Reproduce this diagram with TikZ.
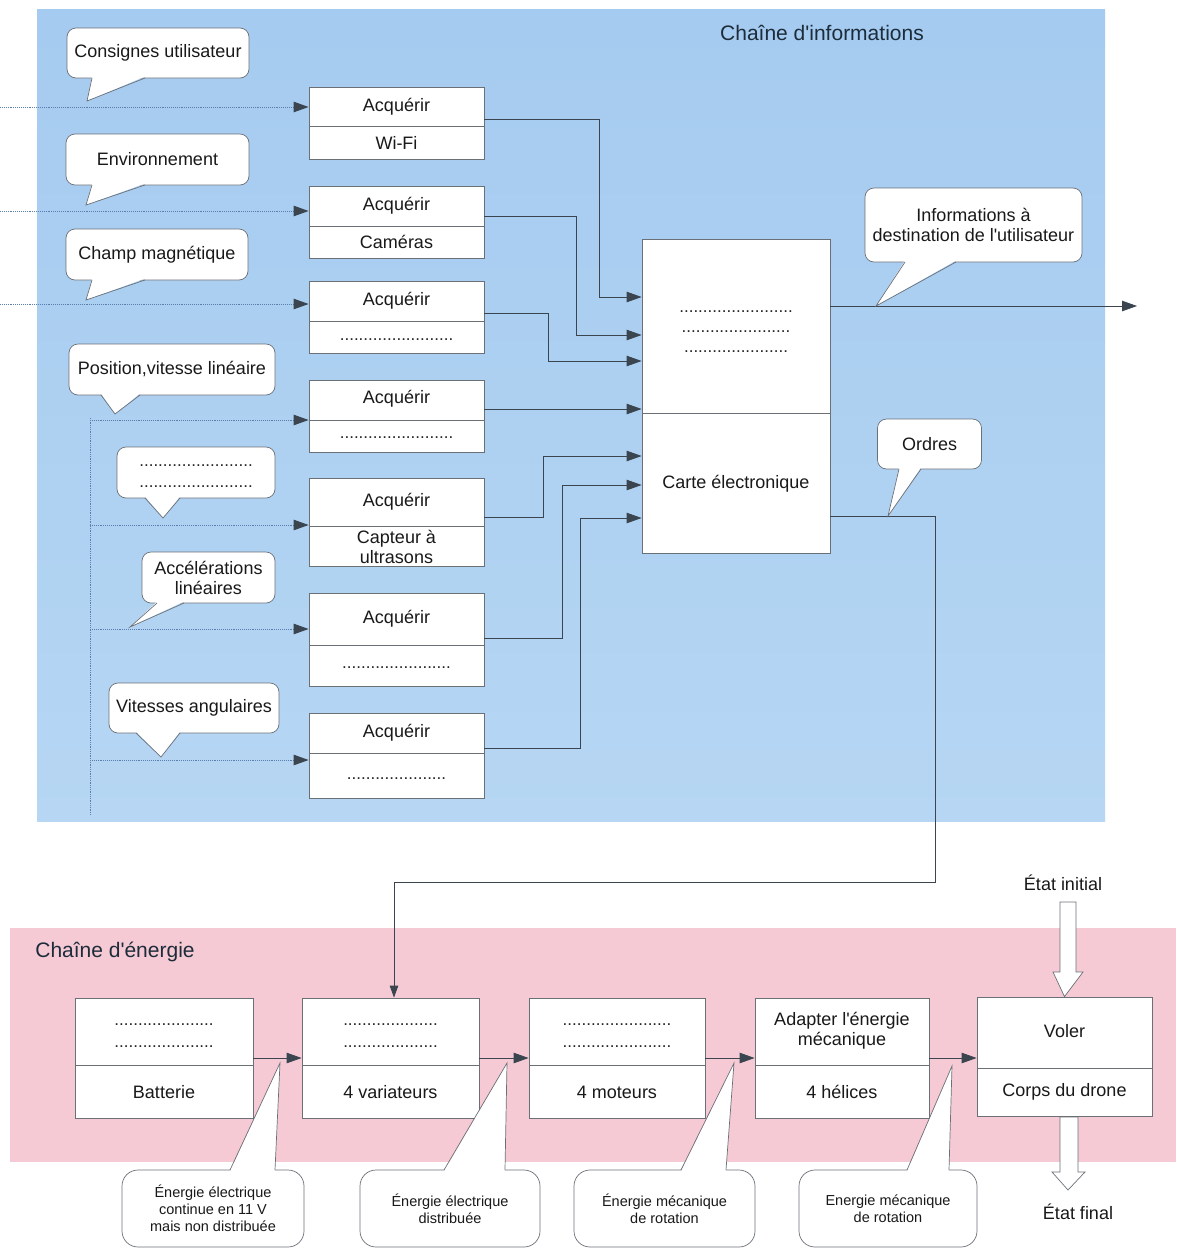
\documentclass[tikz,border=0pt]{standalone}
\usepackage{fontspec}
\setmainfont{Liberation Sans}
\usetikzlibrary{arrows.meta}
\definecolor{infoblue}{HTML}{A5CBF0}
\definecolor{infoblueb}{HTML}{B6D6F3}
\definecolor{energypink}{HTML}{F5CAD4}
\definecolor{linegray}{HTML}{3A4550}
\definecolor{boxgray}{HTML}{6B7077}
\definecolor{dotblue}{HTML}{5A7EAE}
\definecolor{titlecol}{HTML}{1D2C3A}
\newcommand\apos{\textquotesingle}
\newcommand\bptr[6]{%
  \fill[white] (#1,#4) -- (#5,#6) -- (#2,#4) -- cycle;
  \draw[bline] (#1,#3) -- (#5,#6) -- (#2,#3);}
\tikzset{
  tip/.style={-{Triangle[length=15pt,width=10.5pt,color=linegray]}},
  conn/.style={draw=linegray, line width=0.8pt, tip},
  inconn/.style={draw=dotblue, line width=0.9pt, densely dotted, tip},
  dotline/.style={draw=dotblue, line width=0.8pt, densely dotted},
  box/.style={draw=boxgray, fill=white, line width=0.8pt, inner sep=0pt},
  divl/.style={draw=boxgray, line width=0.7pt},
  txt/.style={font=\fontsize{18}{20}\selectfont, text=black!90, align=center, inner sep=0pt},
  dots/.style={font=\fontsize{17}{21}\selectfont, text=black!85, align=center, inner sep=0pt},
  bline/.style={draw=boxgray, line width=0.7pt},
  bubble/.style={draw=boxgray, fill=white, line width=0.7pt, rounded corners=9pt, align=center, inner sep=0pt, font=\fontsize{18}{20}\selectfont, text=black!90},
  bbubble/.style={bubble, rounded corners=16pt, font=\fontsize{14.5}{17}\selectfont},
  title/.style={font=\fontsize{21}{24}\selectfont, text=titlecol, inner sep=0pt},
  hollow/.style={draw=boxgray, fill=white, line width=0.7pt},
}
\begin{document}
\begin{tikzpicture}[x=1pt,y=-1pt]
\useasboundingbox (0,0) rectangle (1176,1248);
\fill[white] (0,0) rectangle (1176,1248);
% backgrounds
\shade[top color=infoblue, bottom color=infoblueb] (37,9) rectangle (1105,821);
\fill[energypink] (10,928) rectangle (1176,1162);
\node[title] (T1) at (822,33) {Chaîne d\apos informations};
\node[title] (T2) at (115,952) {Chaîne d\apos énergie};

% input dotted lines
\coordinate (vtop) at (90,418);
\coordinate (vbot) at (90,815);
\draw[dotline] (vtop) -- (vbot);

% Acquerir boxes
\node[box, minimum width=175pt, minimum height=72pt] (A1) at (396.5,123) {};
\draw[divl] (309,126) -- (484,126);
\node[txt] (A1a) at (396.5,106.5) {Acquérir};
\node[txt] (A1b) at (396.5,142.5) {Wi-Fi};

\node[box, minimum width=175pt, minimum height=72pt] (A2) at (396.5,222) {};
\draw[divl] (309,226) -- (484,226);
\node[txt] (A2a) at (396.5,206) {Acquérir};
\node[txt] (A2b) at (396.5,242) {Caméras};

\node[box, minimum width=175pt, minimum height=72pt] (A3) at (396.5,317) {};
\draw[divl] (309,321) -- (484,321);
\node[txt] (A3a) at (396.5,301) {Acquérir};
\node[dots] (A3b) at (396.5,340) {........................};

\node[box, minimum width=175pt, minimum height=72pt] (A4) at (396.5,416) {};
\draw[divl] (309,420) -- (484,420);
\node[txt] (A4a) at (396.5,399) {Acquérir};
\node[dots] (A4b) at (396.5,438) {........................};

\node[box, minimum width=175pt, minimum height=88pt] (A5) at (396.5,522) {};
\draw[divl] (309,526) -- (484,526);
\node[txt] (A5a) at (396.5,502) {Acquérir};
\node[txt] (A5b) at (396.5,547) {Capteur à\\ultrasons};

\node[box, minimum width=175pt, minimum height=93pt] (A6) at (396.5,639.5) {};
\draw[divl] (309,645) -- (484,645);
\node[txt] (A6a) at (396.5,619) {Acquérir};
\node[dots] (A6b) at (396.5,668) {.......................};

\node[box, minimum width=175pt, minimum height=85pt] (A7) at (396.5,755.5) {};
\draw[divl] (309,753) -- (484,753);
\node[txt] (A7a) at (396.5,733) {Acquérir};
\node[dots] (A7b) at (396.5,779) {.....................};

% input arrows
\coordinate (i1) at (0,107);
\coordinate (i2) at (0,211);
\coordinate (i3) at (0,304);
\coordinate (i4) at (90,420);
\coordinate (i5) at (90,525);
\coordinate (i6) at (90,629);
\coordinate (i7) at (90,760);
\draw[inconn] (i1) -- ([yshift=16pt]A1.west);
\draw[inconn] (i2) -- ([yshift=11pt]A2.west);
\draw[inconn] (i3) -- ([yshift=13pt]A3.west);
\draw[inconn] (i4) -- ([yshift=-4pt]A4.west);
\draw[inconn] (i5) -- ([yshift=-3pt]A5.west);
\draw[inconn] (i6) -- ([yshift=10.5pt]A6.west);
\draw[inconn] (i7) -- ([yshift=-4.5pt]A7.west);

% Carte electronique
\node[box, minimum width=188pt, minimum height=314pt] (C) at (736,396) {};
\draw[divl] (642,413) -- (830,413);
\node[dots] (Cd1) at (736,312) {........................};
\node[dots] (Cd2) at (736,332) {.......................};
\node[dots] (Cd3) at (736,352) {......................};
\node[txt] (Ct) at (736,484) {Carte électronique};

% connections to Carte
\draw[conn] ([yshift=4pt]A1.east) -| (599,297) -- ([yshift=99pt]C.west);
\draw[conn] ([yshift=6pt]A2.east) -| (576,335) -- ([yshift=61pt]C.west);
\draw[conn] ([yshift=4pt]A3.east) -| (548,361) -- ([yshift=35pt]C.west);
\draw[conn] ([yshift=7pt]A4.east) -- ([yshift=-13pt]C.west);
\draw[conn] ([yshift=5pt]A5.east) -| (543,456) -- ([yshift=-60pt]C.west);
\draw[conn] ([yshift=1.5pt]A6.east) -| (562,485) -- ([yshift=-89pt]C.west);
\draw[conn] ([yshift=7.5pt]A7.east) -| (580,518) -- ([yshift=-122pt]C.west);

% output
\coordinate (out) at (1137,306);
\draw[conn] ([yshift=90pt]C.east) -- (out);

% energy chain boxes
\node[box, minimum width=178pt, minimum height=120pt] (Bat) at (164,1058) {};
\draw[divl] (75,1065) -- (253,1065);
\node[dots] (Bd1) at (164,1025) {.....................};
\node[dots] (Bd2) at (164,1047) {.....................};
\node[txt] (Bt) at (164,1092) {Batterie};

\node[box, minimum width=177pt, minimum height=120pt] (V2) at (390.5,1058) {};
\draw[divl] (302,1065) -- (479,1065);
\node[dots] (Vd1) at (390.5,1025) {....................};
\node[dots] (Vd2) at (390.5,1047) {....................};
\node[txt] (Vt) at (390.5,1092) {4 variateurs};

\node[box, minimum width=176pt, minimum height=120pt] (M) at (617,1058) {};
\draw[divl] (529,1065) -- (705,1065);
\node[dots] (Md1) at (617,1025) {.......................};
\node[dots] (Md2) at (617,1047) {.......................};
\node[txt] (Mt) at (617,1092) {4 moteurs};

\node[box, minimum width=174pt, minimum height=120pt] (H) at (842,1058) {};
\draw[divl] (755,1065) -- (929,1065);
\node[txt] (Ha) at (842,1031) {Adapter l\apos énergie\\mécanique};
\node[txt] (Hb) at (842,1092) {4 hélices};

\node[box, minimum width=175pt, minimum height=119pt] (Vo) at (1064.5,1056.5) {};
\draw[divl] (977,1068) -- (1152,1068);
\node[txt] (Voa) at (1064.5,1031) {Voler};
\node[txt] (Vob) at (1064.5,1092) {Corps du drone};

\draw[conn] (Bat.east) -- (V2.west);
\draw[conn] (V2.east) -- (M.west);
\draw[conn] (M.east) -- (H.west);
\draw[conn] (H.east) -- (H.east -| Vo.west);

% Ordres line
\draw[conn, -{Triangle[length=12pt,width=8.5pt,color=linegray]}] ([yshift=-120pt]C.east) -| (935,882) -| ([xshift=3.5pt]V2.north);

% hollow arrows
\node[txt] (ei) at (1063,883) {État initial};
\node[txt] (ef) at (1078,1212) {État final};
\draw[hollow] (1060,902) -- (1076,902) -- (1076,972) -- (1083,972) -- (Vo.north) -- (1053,972) -- (1060,972) -- cycle;
\draw[hollow] (1060,1117) -- (1078,1117) -- (1078,1172) -- (1085,1172) -- (1068,1190) -- (1052,1172) -- (1060,1172) -- cycle;

% top bubbles
\node[bubble, minimum width=182pt, minimum height=50pt] (b1) at (158,53) {Consignes utilisateur};
\bptr{92}{145}{78}{76.5}{87}{101}
\node[bubble, minimum width=183pt, minimum height=51pt] (b2) at (157.5,159.5) {Environnement};
\bptr{92}{145}{185}{183.5}{86}{205}
\node[bubble, minimum width=182pt, minimum height=51pt] (b3) at (157,254.5) {Champ magnétique};
\bptr{92}{145}{280}{278.5}{86}{300}
\node[bubble, minimum width=206pt, minimum height=51pt] (b4) at (172,369.5) {Position,vitesse linéaire};
\bptr{101}{140}{395}{393.5}{115}{414}
\node[bubble, minimum width=158pt, minimum height=51pt] (b5) at (196,472.5) {};
\node[dots] (b5a) at (196,466) {........................};
\node[dots] (b5b) at (196,487) {........................};
\bptr{145}{180}{498}{496.5}{163}{518}
\node[bubble, minimum width=133pt, minimum height=51pt] (b6) at (208.5,577.5) {Accélérations\\linéaires};
\bptr{157}{184}{603}{601.5}{130}{627}
\node[bubble, minimum width=170pt, minimum height=50pt] (b7) at (194,708) {Vitesses angulaires};
\bptr{136}{180}{733}{731.5}{161}{757}
\node[bubble, minimum width=217pt, minimum height=74pt] (b8) at (973.5,225) {Informations à\\destination de l\apos utilisateur};
\bptr{905}{956}{262}{260.5}{876}{306}
\node[bubble, minimum width=104pt, minimum height=50pt] (b9) at (929.5,444) {Ordres};
\bptr{899}{921}{469}{467.5}{888}{516}

% bottom bubbles
\node[bbubble, minimum width=182pt, minimum height=77pt] (c1) at (213,1208.5) {Énergie électrique\\continue en 11 V\\mais non distribuée};
\bptr{230}{275}{1170}{1171.5}{280}{1063}
\node[bbubble, minimum width=180pt, minimum height=77pt] (c2) at (450,1208.5) {Énergie électrique\\distribuée};
\bptr{444}{505}{1170}{1171.5}{507}{1063}
\node[bbubble, minimum width=181pt, minimum height=77pt] (c3) at (664.5,1208.5) {Énergie mécanique\\de rotation};
\bptr{681}{726}{1170}{1171.5}{734}{1063}
\node[bbubble, minimum width=178pt, minimum height=77pt] (c4) at (888,1208.5) {Energie mécanique\\de rotation};
\bptr{907}{949}{1170}{1171.5}{952}{1066}
\end{tikzpicture}
\end{document}
